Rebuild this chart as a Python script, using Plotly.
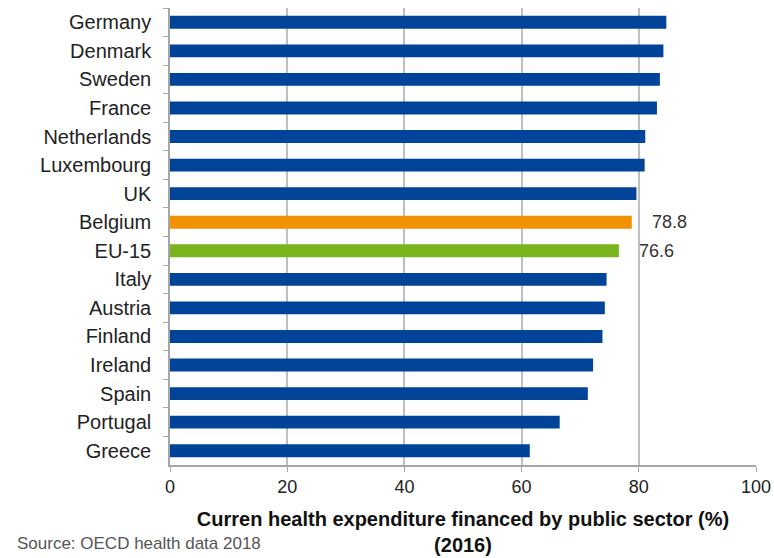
import plotly.graph_objects as go

countries = ["Germany", "Denmark", "Sweden", "France", "Netherlands", "Luxembourg", "UK",
             "Belgium", "EU-15", "Italy", "Austria", "Finland", "Ireland", "Spain",
             "Portugal", "Greece"]
values = [84.7, 84.2, 83.6, 83.1, 81.1, 81.0, 79.6, 78.8, 76.6, 74.5, 74.2, 73.8,
          72.2, 71.3, 66.5, 61.4]
highlight_labels = {"Belgium": "78.8", "EU-15": "76.6"}
x_ticks = [0, 20, 40, 60, 80, 100]

BLUE = "#00449A"
ORANGE = "#F39200"
GREEN = "#7AB51D"
colors = [ORANGE if c == "Belgium" else GREEN if c == "EU-15" else BLUE for c in countries]
FONT = "Liberation Sans, Arial, sans-serif"

fig = go.Figure(go.Bar(
    x=values, y=countries, orientation="h",
    marker=dict(color=colors, line=dict(width=0)),
    width=0.45,
    hoverinfo="x+y",
))

annotations = []
for c, v in zip(countries, values):
    if c in highlight_labels:
        annotations.append(dict(
            x=v, y=c, xref="x", yref="y", text=highlight_labels[c],
            xanchor="left", yanchor="middle", xshift=18, showarrow=False,
            font=dict(family=FONT, size=18, color="#333333"),
        ))
annotations.append(dict(
    x=-0.2645, y=-0.171, xref="paper", yref="paper", text="Source: OECD health data 2018",
    xanchor="left", yanchor="middle", showarrow=False,
    font=dict(family=FONT, size=17, color="#555555"),
))

fig.update_layout(
    width=774, height=558,
    margin=dict(l=170, r=18, t=8, b=93),
    plot_bgcolor="white", paper_bgcolor="white",
    showlegend=False,
    font=dict(family=FONT, size=18, color="#222222"),
    xaxis=dict(
        range=[0, 100], tickvals=x_ticks, ticktext=[str(t) for t in x_ticks],
        showgrid=True, gridcolor="#BFBFBF", gridwidth=1.5,
        showline=True, linecolor="#A6A6A6", linewidth=1.5,
        ticks="outside", ticklen=5, tickcolor="#A6A6A6",
        zeroline=False, automargin=False,
        tickfont=dict(size=18, color="#222222"),
        title=dict(text="<b>Curren health expenditure financed by public sector (%)<br>(2016)</b>",
                   font=dict(size=20, color="#111111"), standoff=16),
    ),
    yaxis=dict(
        type="category", categoryorder="array", categoryarray=countries,
        autorange="reversed", automargin=False,
        showline=True, linecolor="#A6A6A6", linewidth=1.5,
        ticks="outside", ticklen=5, tickcolor="#A6A6A6", tickson="boundaries",
        showgrid=False,
        tickfont=dict(size=20, color="#222222"),
        ticklabelstandoff=13,
    ),
    annotations=annotations,
)

fig.write_html("out.html")
